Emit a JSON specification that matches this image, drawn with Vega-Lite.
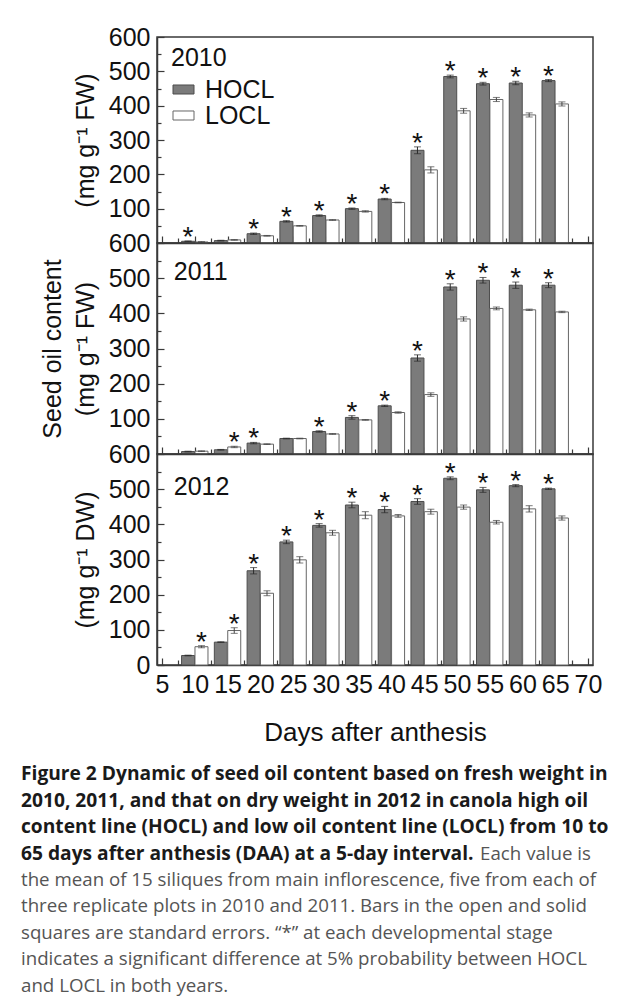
{
  "$schema": "https://vega.github.io/schema/vega-lite/v6.json",
  "background": "white",
  "padding": {"left": 21, "top": 24, "right": 0, "bottom": 0},
  "config": {
    "font": "Liberation Sans",
    "view": {"stroke": "#3a3a3a", "strokeWidth": 1.5},
    "axis": {"domainColor": "#3a3a3a", "domainWidth": 1.5, "tickColor": "#3a3a3a", "tickWidth": 1.2, "labelFont": "Liberation Sans", "titleFont": "Liberation Sans", "labelColor": "#111", "titleColor": "#111", "titleFontWeight": "normal", "grid": false, "labelOverlap": false}
  },
  "datasets": {
    "bars": [
      {"year":2010,"day":10,"line":"HOCL","value":5,"lo":4,"hi":6,"sig":true},
      {"year":2010,"day":10,"line":"LOCL","value":3,"lo":2,"hi":4,"sig":false},
      {"year":2010,"day":15,"line":"HOCL","value":7,"lo":6,"hi":8,"sig":false},
      {"year":2010,"day":15,"line":"LOCL","value":9,"lo":8,"hi":10,"sig":false},
      {"year":2010,"day":20,"line":"HOCL","value":27,"lo":25,"hi":29,"sig":true},
      {"year":2010,"day":20,"line":"LOCL","value":21,"lo":20,"hi":22,"sig":false},
      {"year":2010,"day":25,"line":"HOCL","value":63,"lo":61,"hi":65,"sig":true},
      {"year":2010,"day":25,"line":"LOCL","value":50,"lo":49,"hi":51,"sig":false},
      {"year":2010,"day":30,"line":"HOCL","value":80,"lo":78,"hi":82,"sig":true},
      {"year":2010,"day":30,"line":"LOCL","value":67,"lo":66,"hi":68,"sig":false},
      {"year":2010,"day":35,"line":"HOCL","value":100,"lo":98,"hi":102,"sig":true},
      {"year":2010,"day":35,"line":"LOCL","value":92,"lo":90,"hi":94,"sig":false},
      {"year":2010,"day":40,"line":"HOCL","value":128,"lo":126,"hi":130,"sig":true},
      {"year":2010,"day":40,"line":"LOCL","value":118,"lo":117,"hi":119,"sig":false},
      {"year":2010,"day":45,"line":"HOCL","value":270,"lo":260,"hi":280,"sig":true},
      {"year":2010,"day":45,"line":"LOCL","value":213,"lo":204,"hi":222,"sig":false},
      {"year":2010,"day":50,"line":"HOCL","value":485,"lo":481,"hi":489,"sig":true},
      {"year":2010,"day":50,"line":"LOCL","value":385,"lo":378,"hi":392,"sig":false},
      {"year":2010,"day":55,"line":"HOCL","value":464,"lo":460,"hi":468,"sig":true},
      {"year":2010,"day":55,"line":"LOCL","value":418,"lo":412,"hi":424,"sig":false},
      {"year":2010,"day":60,"line":"HOCL","value":466,"lo":461,"hi":471,"sig":true},
      {"year":2010,"day":60,"line":"LOCL","value":373,"lo":367,"hi":379,"sig":false},
      {"year":2010,"day":65,"line":"HOCL","value":473,"lo":470,"hi":476,"sig":true},
      {"year":2010,"day":65,"line":"LOCL","value":405,"lo":399,"hi":411,"sig":false},
      {"year":2011,"day":10,"line":"HOCL","value":7,"lo":6,"hi":8,"sig":false},
      {"year":2011,"day":10,"line":"LOCL","value":8,"lo":7,"hi":9,"sig":false},
      {"year":2011,"day":15,"line":"HOCL","value":12,"lo":11,"hi":13,"sig":false},
      {"year":2011,"day":15,"line":"LOCL","value":20,"lo":18,"hi":22,"sig":true},
      {"year":2011,"day":20,"line":"HOCL","value":31,"lo":29,"hi":33,"sig":true},
      {"year":2011,"day":20,"line":"LOCL","value":28,"lo":27,"hi":29,"sig":false},
      {"year":2011,"day":25,"line":"HOCL","value":44,"lo":43,"hi":45,"sig":false},
      {"year":2011,"day":25,"line":"LOCL","value":44,"lo":43,"hi":45,"sig":false},
      {"year":2011,"day":30,"line":"HOCL","value":64,"lo":62,"hi":66,"sig":true},
      {"year":2011,"day":30,"line":"LOCL","value":57,"lo":56,"hi":58,"sig":false},
      {"year":2011,"day":35,"line":"HOCL","value":104,"lo":99,"hi":109,"sig":true},
      {"year":2011,"day":35,"line":"LOCL","value":97,"lo":96,"hi":98,"sig":false},
      {"year":2011,"day":40,"line":"HOCL","value":137,"lo":135,"hi":139,"sig":true},
      {"year":2011,"day":40,"line":"LOCL","value":118,"lo":116,"hi":120,"sig":false},
      {"year":2011,"day":45,"line":"HOCL","value":273,"lo":264,"hi":282,"sig":true},
      {"year":2011,"day":45,"line":"LOCL","value":169,"lo":164,"hi":174,"sig":false},
      {"year":2011,"day":50,"line":"HOCL","value":475,"lo":466,"hi":484,"sig":true},
      {"year":2011,"day":50,"line":"LOCL","value":384,"lo":378,"hi":390,"sig":false},
      {"year":2011,"day":55,"line":"HOCL","value":494,"lo":486,"hi":502,"sig":true},
      {"year":2011,"day":55,"line":"LOCL","value":414,"lo":410,"hi":418,"sig":false},
      {"year":2011,"day":60,"line":"HOCL","value":480,"lo":471,"hi":489,"sig":true},
      {"year":2011,"day":60,"line":"LOCL","value":410,"lo":408,"hi":412,"sig":false},
      {"year":2011,"day":65,"line":"HOCL","value":480,"lo":473,"hi":487,"sig":true},
      {"year":2011,"day":65,"line":"LOCL","value":404,"lo":402,"hi":406,"sig":false},
      {"year":2012,"day":10,"line":"HOCL","value":27,"lo":26,"hi":28,"sig":false},
      {"year":2012,"day":10,"line":"LOCL","value":52,"lo":49,"hi":55,"sig":true},
      {"year":2012,"day":15,"line":"HOCL","value":65,"lo":64,"hi":66,"sig":false},
      {"year":2012,"day":15,"line":"LOCL","value":98,"lo":90,"hi":106,"sig":true},
      {"year":2012,"day":20,"line":"HOCL","value":268,"lo":259,"hi":277,"sig":true},
      {"year":2012,"day":20,"line":"LOCL","value":204,"lo":197,"hi":211,"sig":false},
      {"year":2012,"day":25,"line":"HOCL","value":350,"lo":345,"hi":355,"sig":true},
      {"year":2012,"day":25,"line":"LOCL","value":299,"lo":290,"hi":308,"sig":false},
      {"year":2012,"day":30,"line":"HOCL","value":397,"lo":392,"hi":402,"sig":true},
      {"year":2012,"day":30,"line":"LOCL","value":376,"lo":369,"hi":383,"sig":false},
      {"year":2012,"day":35,"line":"HOCL","value":455,"lo":447,"hi":463,"sig":true},
      {"year":2012,"day":35,"line":"LOCL","value":426,"lo":416,"hi":436,"sig":false},
      {"year":2012,"day":40,"line":"HOCL","value":442,"lo":433,"hi":451,"sig":true},
      {"year":2012,"day":40,"line":"LOCL","value":424,"lo":420,"hi":428,"sig":false},
      {"year":2012,"day":45,"line":"HOCL","value":465,"lo":457,"hi":473,"sig":true},
      {"year":2012,"day":45,"line":"LOCL","value":436,"lo":429,"hi":443,"sig":false},
      {"year":2012,"day":50,"line":"HOCL","value":531,"lo":527,"hi":535,"sig":true},
      {"year":2012,"day":50,"line":"LOCL","value":449,"lo":443,"hi":455,"sig":false},
      {"year":2012,"day":55,"line":"HOCL","value":498,"lo":491,"hi":505,"sig":true},
      {"year":2012,"day":55,"line":"LOCL","value":406,"lo":401,"hi":411,"sig":false},
      {"year":2012,"day":60,"line":"HOCL","value":510,"lo":507,"hi":513,"sig":true},
      {"year":2012,"day":60,"line":"LOCL","value":444,"lo":435,"hi":453,"sig":false},
      {"year":2012,"day":65,"line":"HOCL","value":501,"lo":499,"hi":503,"sig":true},
      {"year":2012,"day":65,"line":"LOCL","value":418,"lo":412,"hi":424,"sig":false}
    ],
    "caption": [
      {"row":1,"part":"bold","text":"Figure 2 Dynamic of seed oil content based on fresh weight in"},
      {"row":2,"part":"bold","text":"2010, 2011, and that on dry weight in 2012 in canola high oil"},
      {"row":3,"part":"bold","text":"content line (HOCL) and low oil content line (LOCL) from 10 to"},
      {"row":4,"part":"bold","text":"65 days after anthesis (DAA) at a 5-day interval."},
      {"row":4,"part":"tail","text":"Each value is"},
      {"row":5,"part":"body","text":"the mean of 15 siliques from main inflorescence, five from each of"},
      {"row":6,"part":"body","text":"three replicate plots in 2010 and 2011. Bars in the open and solid"},
      {"row":7,"part":"body","text":"squares are standard errors. “*” at each developmental stage"},
      {"row":8,"part":"body","text":"indicates a significant difference at 5% probability between HOCL"},
      {"row":9,"part":"body","text":"and LOCL in both years."}
    ]
  },
  "resolve": {"scale": {"fill": "independent", "stroke": "independent"}},
  "spacing": 15,
  "vconcat": [
    {
      "spacing": 0,
      "bounds": "flush",
      "resolve": {"scale": {"fill": "independent", "stroke": "independent"}},
      "vconcat": [
        {
          "width": 436, "height": 206,
          "data": {"name": "bars"},
          "transform": [{"filter": "datum.year == 2010"}],
          "resolve": {"axis": {"y": "independent"}},
          "encoding": {"x": {"field": "day", "type": "quantitative", "scale": {"domain": [5, 70], "nice": false, "zero": false},
            "axis": {"values": [5,7.5,10,12.5,15,17.5,20,22.5,25,27.5,30,32.5,35,37.5,40,42.5,45,47.5,50,52.5,55,57.5,60,62.5,65,67.5,70], "labels": false, "title": null, "tickSize": {"condition": {"test": "datum.value % 5 === 0", "value": -7}, "value": -5}}}},
          "layer": [
            {"transform": [{"filter": "datum.line == 'HOCL'"}],
             "mark": {"type": "bar", "width": 13, "xOffset": -6.7, "strokeWidth": 1},
             "encoding": {
               "y": {"field": "value", "type": "quantitative", "scale": {"domain": [0, 600], "nice": false},
                 "axis": {"orient": "left", "values": [100,200,300,400,500,600], "labelOverlap": false, "tickSize": -7, "labelPadding": 14, "labelFontSize": 25, "title": "(mg g⁻¹ FW)", "titleFontSize": 25, "titlePadding": 10}},
               "fill": {"field": "line", "type": "nominal", "scale": {"domain": ["HOCL", "LOCL"], "range": ["#7b7b7b", "#ffffff"]},
                 "legend": {"title": "2010", "orient": "none", "legendX": 14, "legendY": 9, "padding": 0, "titleFontSize": 25, "titleFontWeight": "normal", "titleColor": "#111", "titlePadding": 6, "labelFontSize": 25, "labelColor": "#111", "symbolType": "M-1,-0.43H1V0.43H-1Z", "symbolSize": 441, "symbolStrokeWidth": 1, "labelOffset": 9, "rowPadding": 0}},
               "stroke": {"field": "line", "type": "nominal", "scale": {"domain": ["HOCL", "LOCL"], "range": ["#4d4d4d", "#666666"]},
                 "legend": {"title": "2010", "orient": "none", "legendX": 14, "legendY": 9, "padding": 0, "titleFontSize": 25, "titleFontWeight": "normal", "titleColor": "#111", "titlePadding": 6, "labelFontSize": 25, "labelColor": "#111", "symbolType": "M-1,-0.43H1V0.43H-1Z", "symbolSize": 441, "symbolStrokeWidth": 1, "labelOffset": 9, "rowPadding": 0}}
             }},
            {"transform": [{"filter": "datum.line == 'LOCL'"}],
             "mark": {"type": "bar", "width": 13, "xOffset": 6.7, "strokeWidth": 1},
             "encoding": {"y": {"field": "value", "type": "quantitative", "axis": {"orient": "left", "values": [50,150,250,350,450,550], "labels": false, "tickSize": -4, "domain": false, "title": null}},
               "fill": {"field": "line", "type": "nominal"},
               "stroke": {"field": "line", "type": "nominal"}}},
            {"transform": [{"filter": "datum.line == 'HOCL'"}], "mark": {"type": "rule", "xOffset": -6.7, "color": "#2a2a2a", "strokeWidth": 1}, "encoding": {"y": {"field": "lo", "type": "quantitative", "axis": null}, "y2": {"field": "hi"}}},
            {"transform": [{"filter": "datum.line == 'HOCL'"}], "mark": {"type": "tick", "orient": "horizontal", "size": 7, "thickness": 1, "xOffset": -6.7, "color": "#2a2a2a"}, "encoding": {"y": {"field": "lo", "type": "quantitative", "axis": null}}},
            {"transform": [{"filter": "datum.line == 'HOCL'"}], "mark": {"type": "tick", "orient": "horizontal", "size": 7, "thickness": 1, "xOffset": -6.7, "color": "#2a2a2a"}, "encoding": {"y": {"field": "hi", "type": "quantitative", "axis": null}}},
            {"transform": [{"filter": "datum.line == 'LOCL'"}], "mark": {"type": "rule", "xOffset": 6.7, "color": "#444", "strokeWidth": 1}, "encoding": {"y": {"field": "lo", "type": "quantitative", "axis": null}, "y2": {"field": "hi"}}},
            {"transform": [{"filter": "datum.line == 'LOCL'"}], "mark": {"type": "tick", "orient": "horizontal", "size": 7, "thickness": 1, "xOffset": 6.7, "color": "#444"}, "encoding": {"y": {"field": "lo", "type": "quantitative", "axis": null}}},
            {"transform": [{"filter": "datum.line == 'LOCL'"}], "mark": {"type": "tick", "orient": "horizontal", "size": 7, "thickness": 1, "xOffset": 6.7, "color": "#444"}, "encoding": {"y": {"field": "hi", "type": "quantitative", "axis": null}}},
            {"transform": [{"filter": "datum.sig && datum.line == 'HOCL'"}], "mark": {"type": "text", "text": "*", "fontSize": 28, "baseline": "alphabetic", "dy": 5, "xOffset": -6.7, "color": "#111"}, "encoding": {"y": {"field": "hi", "type": "quantitative", "axis": null}}},
            {"transform": [{"filter": "datum.sig && datum.line == 'LOCL'"}], "mark": {"type": "text", "text": "*", "fontSize": 28, "baseline": "alphabetic", "dy": 5, "xOffset": 6.7, "color": "#111"}, "encoding": {"y": {"field": "hi", "type": "quantitative", "axis": null}}}
          ]
        },
        {
          "width": 436, "height": 211,
          "data": {"name": "bars"},
          "transform": [{"filter": "datum.year == 2011"}],
          "resolve": {"axis": {"y": "independent"}},
          "encoding": {"x": {"field": "day", "type": "quantitative", "scale": {"domain": [5, 70], "nice": false, "zero": false},
            "axis": {"values": [5,7.5,10,12.5,15,17.5,20,22.5,25,27.5,30,32.5,35,37.5,40,42.5,45,47.5,50,52.5,55,57.5,60,62.5,65,67.5,70], "labels": false, "title": null, "tickSize": {"condition": {"test": "datum.value % 5 === 0", "value": -7}, "value": -5}}}},
          "layer": [
            {"transform": [{"filter": "datum.line == 'HOCL'"}],
             "mark": {"type": "bar", "width": 13, "xOffset": -6.7, "fill": "#7b7b7b", "stroke": "#4d4d4d", "strokeWidth": 1},
             "encoding": {
               "y": {"field": "value", "type": "quantitative", "scale": {"domain": [0, 600], "nice": false},
                 "axis": {"orient": "left", "values": [100,200,300,400,500,600], "labelOverlap": false, "tickSize": -7, "labelPadding": 14, "labelFontSize": 25, "title": ["Seed oil content", "(mg g⁻¹ FW)"], "titleFontSize": 25, "titlePadding": 10, "titleLineHeight": 33}}}},
            {"transform": [{"filter": "datum.line == 'LOCL'"}],
             "mark": {"type": "bar", "width": 13, "xOffset": 6.7, "fill": "#ffffff", "stroke": "#666666", "strokeWidth": 1},
             "encoding": {"y": {"field": "value", "type": "quantitative", "axis": {"orient": "left", "values": [50,150,250,350,450,550], "labels": false, "tickSize": -4, "domain": false, "title": null}}}},
            {"transform": [{"filter": "datum.line == 'HOCL'"}], "mark": {"type": "rule", "xOffset": -6.7, "color": "#2a2a2a", "strokeWidth": 1}, "encoding": {"y": {"field": "lo", "type": "quantitative", "axis": null}, "y2": {"field": "hi"}}},
            {"transform": [{"filter": "datum.line == 'HOCL'"}], "mark": {"type": "tick", "orient": "horizontal", "size": 7, "thickness": 1, "xOffset": -6.7, "color": "#2a2a2a"}, "encoding": {"y": {"field": "lo", "type": "quantitative", "axis": null}}},
            {"transform": [{"filter": "datum.line == 'HOCL'"}], "mark": {"type": "tick", "orient": "horizontal", "size": 7, "thickness": 1, "xOffset": -6.7, "color": "#2a2a2a"}, "encoding": {"y": {"field": "hi", "type": "quantitative", "axis": null}}},
            {"transform": [{"filter": "datum.line == 'LOCL'"}], "mark": {"type": "rule", "xOffset": 6.7, "color": "#444", "strokeWidth": 1}, "encoding": {"y": {"field": "lo", "type": "quantitative", "axis": null}, "y2": {"field": "hi"}}},
            {"transform": [{"filter": "datum.line == 'LOCL'"}], "mark": {"type": "tick", "orient": "horizontal", "size": 7, "thickness": 1, "xOffset": 6.7, "color": "#444"}, "encoding": {"y": {"field": "lo", "type": "quantitative", "axis": null}}},
            {"transform": [{"filter": "datum.line == 'LOCL'"}], "mark": {"type": "tick", "orient": "horizontal", "size": 7, "thickness": 1, "xOffset": 6.7, "color": "#444"}, "encoding": {"y": {"field": "hi", "type": "quantitative", "axis": null}}},
            {"transform": [{"filter": "datum.sig && datum.line == 'HOCL'"}], "mark": {"type": "text", "text": "*", "fontSize": 28, "baseline": "alphabetic", "dy": 5, "xOffset": -6.7, "color": "#111"}, "encoding": {"y": {"field": "hi", "type": "quantitative", "axis": null}}},
            {"transform": [{"filter": "datum.sig && datum.line == 'LOCL'"}], "mark": {"type": "text", "text": "*", "fontSize": 28, "baseline": "alphabetic", "dy": 5, "xOffset": 6.7, "color": "#111"}, "encoding": {"y": {"field": "hi", "type": "quantitative", "axis": null}}},
            {"transform": [{"filter": "datum.day == 10 && datum.line == 'HOCL'"}], "mark": {"type": "text", "align": "left", "baseline": "middle", "fontSize": 25, "color": "#111"}, "encoding": {"text": {"field": "year", "type": "nominal"}, "x": {"datum": 6.8}, "y": {"datum": 517, "type": "quantitative", "axis": null}}}
          ]
        },
        {
          "width": 436, "height": 211,
          "data": {"name": "bars"},
          "transform": [{"filter": "datum.year == 2012"}],
          "resolve": {"axis": {"y": "independent"}},
          "encoding": {"x": {"field": "day", "type": "quantitative", "scale": {"domain": [5, 70], "nice": false, "zero": false},
            "axis": {"values": [5,7.5,10,12.5,15,17.5,20,22.5,25,27.5,30,32.5,35,37.5,40,42.5,45,47.5,50,52.5,55,57.5,60,62.5,65,67.5,70], "labelOverlap": false, "labelExpr": "datum.value % 5 === 0 ? datum.label : ''", "labelFontSize": 25, "labelPadding": 14, "labelFlush": false, "title": "Days after anthesis", "titleFontSize": 26, "titlePadding": 20, "tickSize": {"condition": {"test": "datum.value % 5 === 0", "value": -7}, "value": -5}}}},
          "layer": [
            {"transform": [{"filter": "datum.line == 'HOCL'"}],
             "mark": {"type": "bar", "width": 13, "xOffset": -6.7, "fill": "#7b7b7b", "stroke": "#4d4d4d", "strokeWidth": 1},
             "encoding": {
               "y": {"field": "value", "type": "quantitative", "scale": {"domain": [0, 600], "nice": false},
                 "axis": {"orient": "left", "values": [0,100,200,300,400,500,600], "labelOverlap": false, "tickSize": -7, "labelPadding": 14, "labelFontSize": 25, "title": "(mg g⁻¹ DW)", "titleFontSize": 25, "titlePadding": 10}}}},
            {"transform": [{"filter": "datum.line == 'LOCL'"}],
             "mark": {"type": "bar", "width": 13, "xOffset": 6.7, "fill": "#ffffff", "stroke": "#666666", "strokeWidth": 1},
             "encoding": {"y": {"field": "value", "type": "quantitative", "axis": {"orient": "left", "values": [50,150,250,350,450,550], "labels": false, "tickSize": -4, "domain": false, "title": null}}}},
            {"transform": [{"filter": "datum.line == 'HOCL'"}], "mark": {"type": "rule", "xOffset": -6.7, "color": "#2a2a2a", "strokeWidth": 1}, "encoding": {"y": {"field": "lo", "type": "quantitative", "axis": null}, "y2": {"field": "hi"}}},
            {"transform": [{"filter": "datum.line == 'HOCL'"}], "mark": {"type": "tick", "orient": "horizontal", "size": 7, "thickness": 1, "xOffset": -6.7, "color": "#2a2a2a"}, "encoding": {"y": {"field": "lo", "type": "quantitative", "axis": null}}},
            {"transform": [{"filter": "datum.line == 'HOCL'"}], "mark": {"type": "tick", "orient": "horizontal", "size": 7, "thickness": 1, "xOffset": -6.7, "color": "#2a2a2a"}, "encoding": {"y": {"field": "hi", "type": "quantitative", "axis": null}}},
            {"transform": [{"filter": "datum.line == 'LOCL'"}], "mark": {"type": "rule", "xOffset": 6.7, "color": "#444", "strokeWidth": 1}, "encoding": {"y": {"field": "lo", "type": "quantitative", "axis": null}, "y2": {"field": "hi"}}},
            {"transform": [{"filter": "datum.line == 'LOCL'"}], "mark": {"type": "tick", "orient": "horizontal", "size": 7, "thickness": 1, "xOffset": 6.7, "color": "#444"}, "encoding": {"y": {"field": "lo", "type": "quantitative", "axis": null}}},
            {"transform": [{"filter": "datum.line == 'LOCL'"}], "mark": {"type": "tick", "orient": "horizontal", "size": 7, "thickness": 1, "xOffset": 6.7, "color": "#444"}, "encoding": {"y": {"field": "hi", "type": "quantitative", "axis": null}}},
            {"transform": [{"filter": "datum.sig && datum.line == 'HOCL'"}], "mark": {"type": "text", "text": "*", "fontSize": 28, "baseline": "alphabetic", "dy": 5, "xOffset": -6.7, "color": "#111"}, "encoding": {"y": {"field": "hi", "type": "quantitative", "axis": null}}},
            {"transform": [{"filter": "datum.sig && datum.line == 'LOCL'"}], "mark": {"type": "text", "text": "*", "fontSize": 28, "baseline": "alphabetic", "dy": 5, "xOffset": 6.7, "color": "#111"}, "encoding": {"y": {"field": "hi", "type": "quantitative", "axis": null}}},
            {"transform": [{"filter": "datum.day == 10 && datum.line == 'HOCL'"}], "mark": {"type": "text", "align": "left", "baseline": "middle", "fontSize": 25, "color": "#111"}, "encoding": {"text": {"field": "year", "type": "nominal"}, "x": {"datum": 6.8}, "y": {"datum": 505, "type": "quantitative", "axis": null}}}
          ]
        }
      ]
    },
    {
      "width": 430, "height": 238,
      "view": {"stroke": null},
      "data": {"name": "caption"},
      "encoding": {"y": {"field": "row", "type": "ordinal", "scale": {"type": "point", "padding": 0.5}, "axis": null}},
      "layer": [
        {"transform": [{"filter": "datum.part == 'bold'"}], "mark": {"type": "text", "align": "left", "baseline": "middle", "font": "Open Sans", "fontSize": 19.2, "fontWeight": "bold", "color": "#1a1a1a"}, "encoding": {"x": {"value": -136}, "text": {"field": "text"}}},
        {"transform": [{"filter": "datum.part == 'body'"}], "mark": {"type": "text", "align": "left", "baseline": "middle", "font": "Open Sans", "fontSize": 18.7, "color": "#555555"}, "encoding": {"x": {"value": -136}, "text": {"field": "text"}}},
        {"transform": [{"filter": "datum.part == 'tail'"}], "mark": {"type": "text", "align": "right", "baseline": "middle", "font": "Open Sans", "fontSize": 18.7, "color": "#555555"}, "encoding": {"x": {"value": 434}, "text": {"field": "text"}}}
      ]
    }
  ]
}
